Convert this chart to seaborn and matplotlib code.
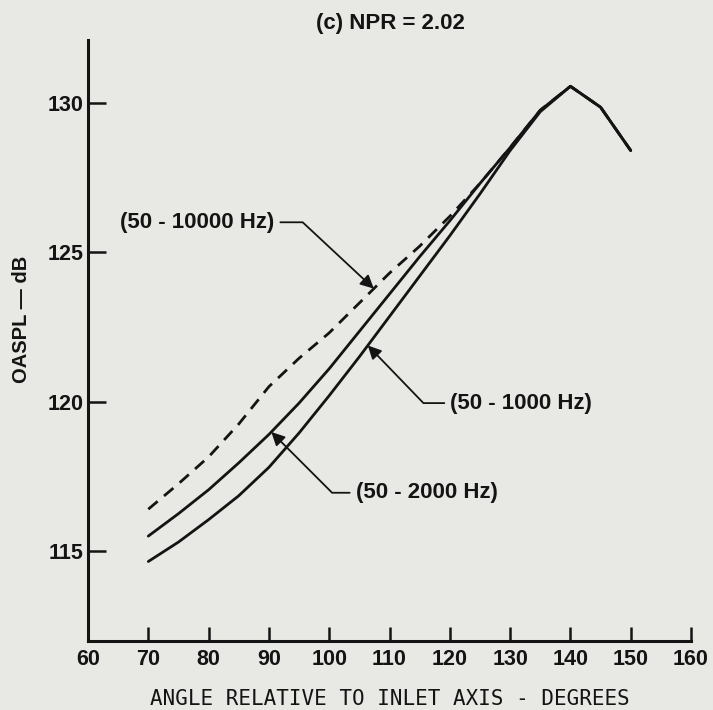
import matplotlib as mpl
mpl.use('agg')
import matplotlib.pyplot as plt
import numpy as np
import pandas as pd
import seaborn as sns

# data
angle = [70, 75, 80, 85, 90, 95, 100, 105, 110, 115, 120, 125, 130, 135, 140, 145, 150]
oaspl_10000 = [116.4, 117.25, 118.15, 119.25, 120.5, 121.45, 122.3, 123.3, 124.3,
               125.2, 126.2, 127.3, 128.5, 129.75, 130.55, 129.85, 128.4]
oaspl_2000 = [115.5, 116.25, 117.05, 117.95, 118.9, 119.95, 121.1, 122.35, 123.6,
              124.85, 126.05, 127.3, 128.5, 129.75, 130.55, 129.85, 128.4]
oaspl_1000 = [114.65, 115.3, 116.05, 116.85, 117.8, 118.95, 120.2, 121.5, 122.85,
              124.2, 125.55, 126.95, 128.4, 129.7, 130.55, 129.85, 128.4]
bands = ['(50 - 10000 Hz)', '(50 - 2000 Hz)', '(50 - 1000 Hz)']

df = pd.concat([
    pd.DataFrame({'angle': angle, 'oaspl': v, 'band': b})
    for b, v in zip(bands, [oaspl_10000, oaspl_2000, oaspl_1000])
])

sns.set_style('ticks')
bold = {'family': ['Liberation Sans', 'DejaVu Sans'], 'weight': 'bold'}
paper = '#e8e8e5'
ink = '#141414'

fig = plt.figure(figsize=(7.13, 7.10), dpi=100, facecolor=paper)
ax = fig.add_axes([0.1234, 0.0976, 0.8458, 0.8461])
ax.set_facecolor(paper)

sns.lineplot(data=df, x='angle', y='oaspl', hue='band', style='band',
             palette=[ink] * 3, dashes={bands[0]: (4.4, 3.0), bands[1]: '', bands[2]: ''},
             linewidth=2.0, legend=False, ax=ax, sort=False)

ax.set_xlim(60, 160)
ax.set_ylim(112, 132.1)
ax.set_xticks(range(60, 161, 10))
ax.set_yticks([115, 120, 125, 130])
sns.despine(ax=ax)
for s in ['left', 'bottom']:
    ax.spines[s].set_linewidth(2.2)
    ax.spines[s].set_color(ink)
ax.tick_params(axis='y', direction='in', length=13, width=1.8, pad=3, colors=ink)
ax.tick_params(axis='x', direction='in', length=10, width=1.8, pad=6, colors=ink)
for lab in ax.get_xticklabels() + ax.get_yticklabels():
    lab.set_fontproperties(mpl.font_manager.FontProperties(**bold, size=15.5))

ax.set_xlabel('ANGLE RELATIVE TO INLET AXIS - DEGREES', family='DejaVu Sans Mono',
              fontsize=15, color=ink, labelpad=14)
ax.set_ylabel('OASPL \u2014 dB', fontdict=bold, fontsize=14.5, color=ink)
ax.yaxis.set_label_coords(-0.095, 0.535)
fig.text(0.547, 0.967, '(c) NPR = 2.02', fontdict=bold, fontsize=16, color=ink,
         ha='center', va='center')

# callouts
arrow = dict(arrowstyle='-|>', color=ink, lw=1.3, mutation_scale=20, shrinkA=2, shrinkB=0)
callouts = [
    (bands[0], oaspl_10000, 107.4, (90.9, 126.0), (1, 0.5), 'right', -43),
    (bands[2], oaspl_1000, 106.4, (120.1, 119.95), (0, 0.5), 'left', 134),
    (bands[1], oaspl_2000, 90.4, (104.4, 116.95), (0, 0.5), 'left', 135),
]
for text, series, tip_x, xytext, relpos, ha, ang in callouts:
    tip_y = np.interp(tip_x, angle, series)
    ax.annotate(text, xy=(tip_x, tip_y), xytext=xytext, ha=ha, va='center',
                fontproperties=mpl.font_manager.FontProperties(**bold, size=16), color=ink,
                arrowprops=dict(arrow, relpos=relpos,
                                connectionstyle=f'angle,angleA=0,angleB={ang},rad=0'))

plt.savefig('out.png', dpi=100, facecolor=paper)
